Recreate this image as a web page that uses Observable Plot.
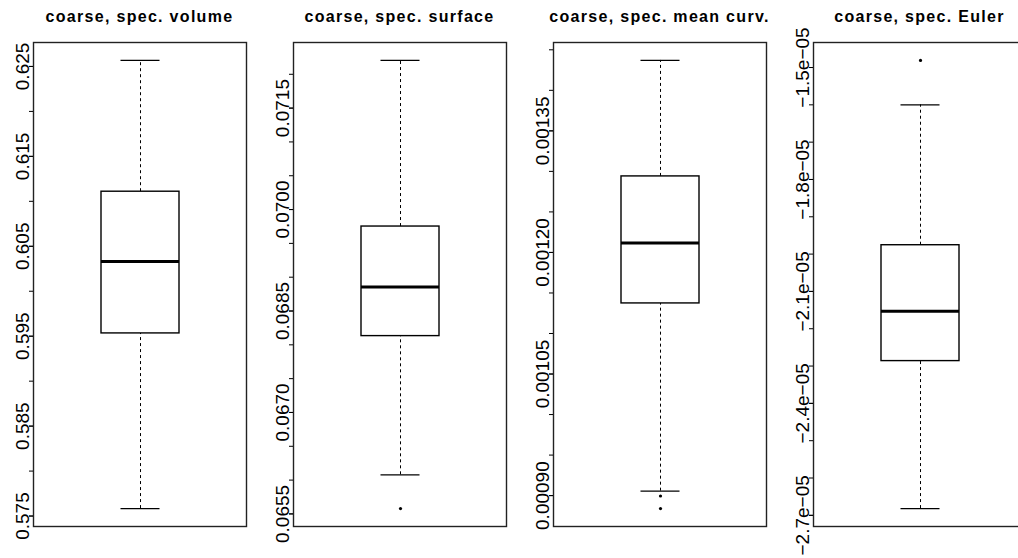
<!DOCTYPE html>
<html><head><meta charset="utf-8">
<script src="https://cdn.jsdelivr.net/npm/d3@7"></script>
<script src="https://cdn.jsdelivr.net/npm/@observablehq/plot@0.6"></script>
<style>
html,body{margin:0;padding:0;background:#fff;overflow:hidden;width:1018px;height:558px;}
#wrap{position:relative;width:1018px;height:558px;overflow:hidden;}
.panel{position:absolute;top:0;width:260px;height:558px;}
.title{position:absolute;left:-10.5px;width:300px;top:9px;text-align:center;font-family:"Liberation Sans",Arial,sans-serif;font-weight:bold;font-size:16px;line-height:16px;letter-spacing:1.3px;white-space:nowrap;color:#000;}
.panel svg{position:absolute;left:0;top:30px;overflow:visible;}
</style></head><body><div id="wrap"></div>
<script>
const titles = ["coarse, spec. volume", "coarse, spec. surface", "coarse, spec. mean curv.", "coarse, spec. Euler"];
const whiskerLow  = [0.57583, 0.066078, 0.0009055, -2.6819e-05];
const lowerQuart  = [0.59531, 0.068129, 0.0011371, -2.2867e-05];
const medians     = [0.60331, 0.068855, 0.0012117, -2.1533e-05];
const upperQuart  = [0.61107, 0.069749, 0.0012938, -1.9762e-05];
const whiskerHigh = [0.62567, 0.072205, 0.0014369, -1.600e-05];
const outliers = [[], [0.065579], [0.0008995, 0.000884], [-1.481e-05]];

const allTicks = [
  [0.575, 0.58, 0.585, 0.59, 0.595, 0.6, 0.605, 0.61, 0.615, 0.62, 0.625],
  [0.0655, 0.066, 0.0665, 0.067, 0.0675, 0.068, 0.0685, 0.069, 0.0695, 0.07, 0.0705, 0.071, 0.0715, 0.072],
  [0.0009, 0.00095, 0.001, 0.00105, 0.0011, 0.00115, 0.0012, 0.00125, 0.0013, 0.00135, 0.0014, 0.00145],
  [-2.7e-05, -2.6e-05, -2.5e-05, -2.4e-05, -2.3e-05, -2.2e-05, -2.1e-05, -2.0e-05, -1.9e-05, -1.8e-05, -1.7e-05, -1.6e-05, -1.5e-05]
];
const labelTicks = [
  [0.575, 0.585, 0.595, 0.605, 0.615, 0.625],
  [0.0655, 0.067, 0.0685, 0.07, 0.0715],
  [0.0009, 0.00105, 0.0012, 0.00135],
  [-2.7e-05, -2.4e-05, -2.1e-05, -1.8e-05, -1.5e-05]
];
const labelTexts = [
  ["0.575", "0.585", "0.595", "0.605", "0.615", "0.625"],
  ["0.0655", "0.0670", "0.0685", "0.0700", "0.0715"],
  ["0.00090", "0.00105", "0.00120", "0.00135"],
  ["\u22122.7e\u221205", "\u22122.4e\u221205", "\u22122.1e\u221205", "\u22121.8e\u221205", "\u22121.5e\u221205"]
];

const wrap = document.getElementById("wrap");
const W = 260, H = 528, mL = 33, mR = 14, mT = 12, mB = 32;
const pad = 0.464;
const bw = (W - mL - mR) * (1 - pad) / (1 + pad);

titles.forEach((t, i) => {
  const panel = document.createElement("div");
  panel.className = "panel";
  panel.style.left = (260 * i) + "px";
  const title = document.createElement("div");
  title.className = "title";
  title.textContent = t;
  panel.appendChild(title);

  const row = {k: "a", lo: whiskerLow[i], q1: lowerQuart[i], med: medians[i], q3: upperQuart[i], hi: whiskerHigh[i]};
  const vals = [row.lo, row.hi, ...outliers[i]];
  const mn = d3.min(vals), mx = d3.max(vals), ext = (mx - mn) * 0.04;
  const labelMap = new Map(labelTicks[i].map((v, j) => [v, labelTexts[i][j]]));

  const chart = Plot.plot({
    width: W, height: H,
    marginLeft: mL, marginRight: mR, marginTop: mT, marginBottom: mB,
    style: {fontFamily: "'Liberation Sans', Arial, sans-serif", fontSize: "19px", color: "#000", background: "transparent"},
    x: {type: "band", domain: ["a"], padding: pad, axis: null},
    y: {domain: [mn - ext, mx + ext]},
    marks: [
      Plot.ruleX([row], {x: "k", y1: "q3", y2: "hi", stroke: "#000", strokeWidth: 1, strokeDasharray: "3,3"}),
      Plot.ruleX([row], {x: "k", y1: "lo", y2: "q1", stroke: "#000", strokeWidth: 1, strokeDasharray: "3,3"}),
      Plot.barY([row], {x: "k", y1: "q1", y2: "q3", fill: "#fff", stroke: "#000", strokeWidth: 1.4}),
      Plot.tickY([row], {x: "k", y: "med", stroke: "#000", strokeWidth: 3}),
      Plot.tickY([row], {x: "k", y: "hi", stroke: "#000", strokeWidth: 1.3, insetLeft: bw / 4, insetRight: bw / 4}),
      Plot.tickY([row], {x: "k", y: "lo", stroke: "#000", strokeWidth: 1.3, insetLeft: bw / 4, insetRight: bw / 4}),
      Plot.dot(outliers[i], {x: () => "a", y: d => d, r: 1.6, fill: "#000", stroke: null}),
      Plot.frame({stroke: "#222", strokeWidth: 1.4}),
      Plot.axisY(allTicks[i], {tickSize: 4, tickFormat: () => "", label: null, stroke: "#000"}),
      Plot.axisY(labelTicks[i], {tickSize: 4, tickPadding: 1, tickRotate: -90, tickFormat: d => labelMap.get(d), label: null, fill: "#000", stroke: "#000"})
    ]
  });
  panel.appendChild(chart);
  wrap.appendChild(panel);
});
</script></body></html>
